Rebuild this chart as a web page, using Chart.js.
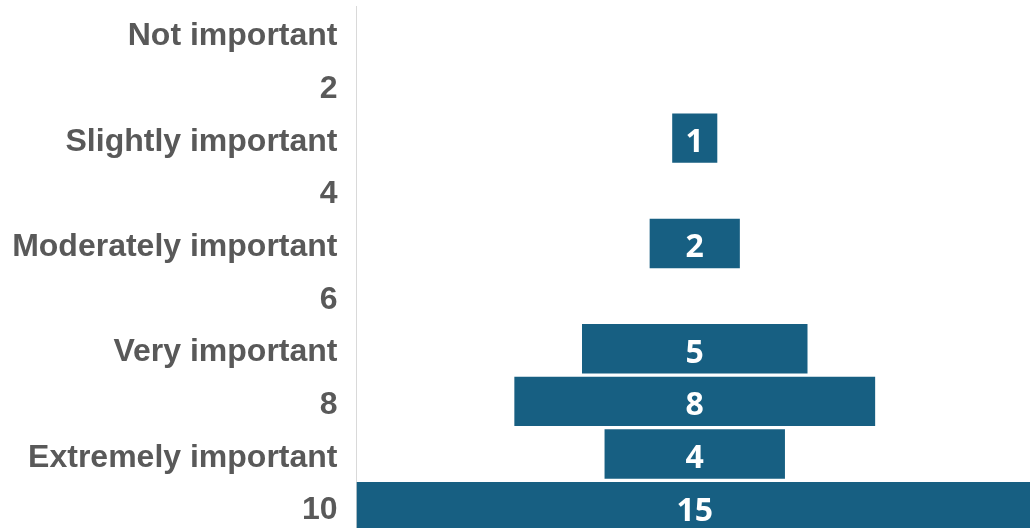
<!DOCTYPE html>
<html id="html">
<head>
<meta charset="utf-8">
<script src="https://cdn.jsdelivr.net/npm/chart.js@4/dist/chart.umd.min.js"></script>
<style>
  html, body { margin: 0; padding: 0; background: #fff; overflow: hidden; }
  #wrap { position: relative; width: 1033px; height: 534px; }
</style>
</head>
<body>
<div id="wrap"><canvas id="myChart"></canvas></div>
<script>
const categories = ['Not important', '2', 'Slightly important', '4', 'Moderately important',
  '6', 'Very important', '8', 'Extremely important', '10'];
const counts = [0, 0, 1, 0, 2, 0, 5, 8, 4, 15];

const barColor = '#175F82';
const labelFont = 'bold 32px "Liberation Sans", Arial, sans-serif';

// each bar floats around zero so the rows stack into a centred funnel
const spans = counts.map(v => [-v / 2, v / 2]);

// white count written in the middle of each bar
const valueLabels = {
  id: 'valueLabels',
  afterDatasetsDraw(chart) {
    const ctx = chart.ctx;
    const meta = chart.getDatasetMeta(0);
    ctx.save();
    ctx.fillStyle = '#ffffff';
    ctx.font = 'bold 32px "Open Sans"';
    ctx.textAlign = 'center';
    ctx.textBaseline = 'alphabetic';
    meta.data.forEach((bar, i) => {
      if (!counts[i]) return;
      const x = chart.scales.x.getPixelForValue(0);
      ctx.fillText(String(counts[i]), x, bar.y + 14);
    });
    ctx.restore();
  }
};

// category names, set on the baseline so the capitals sit centred on each row
const categoryLabels = {
  id: 'categoryLabels',
  afterDraw(chart) {
    const ctx = chart.ctx;
    const y = chart.scales.y;
    ctx.save();
    ctx.fillStyle = '#595959';
    ctx.font = labelFont;
    ctx.textAlign = 'right';
    ctx.textBaseline = 'alphabetic';
    categories.forEach((c, i) => {
      ctx.fillText(c, y.right - 19, y.getPixelForTick(i) + 12.5);
    });
    ctx.restore();
  }
};

const ctx = document.getElementById('myChart');
const myChart = new Chart(ctx, {
  type: 'bar',
  data: {
    labels: categories,
    datasets: [{
      data: spans,
      backgroundColor: barColor,
      borderWidth: 0,
      borderSkipped: false,
      categoryPercentage: 1,
      barPercentage: 0.94
    }]
  },
  options: {
    indexAxis: 'y',
    responsive: true,
    maintainAspectRatio: false,
    animation: false,
    layout: { padding: { top: 6.5, bottom: 1, left: 0, right: 0 } },
    plugins: {
      legend: { display: false },
      tooltip: { enabled: false }
    },
    scales: {
      x: {
        display: false,
        min: -7.5,
        max: 7.5
      },
      y: {
        grid: { display: false, drawTicks: false },
        border: { display: true, color: '#d9d9d9', width: 1 },
        afterFit(scale) {
          scale.width = 356.5;
          scale.paddingTop = 0;
          scale.paddingBottom = 0;
        },
        ticks: { display: false, autoSkip: false }
      }
    }
  },
  plugins: [valueLabels, categoryLabels]
});
</script>
</body>
</html>
